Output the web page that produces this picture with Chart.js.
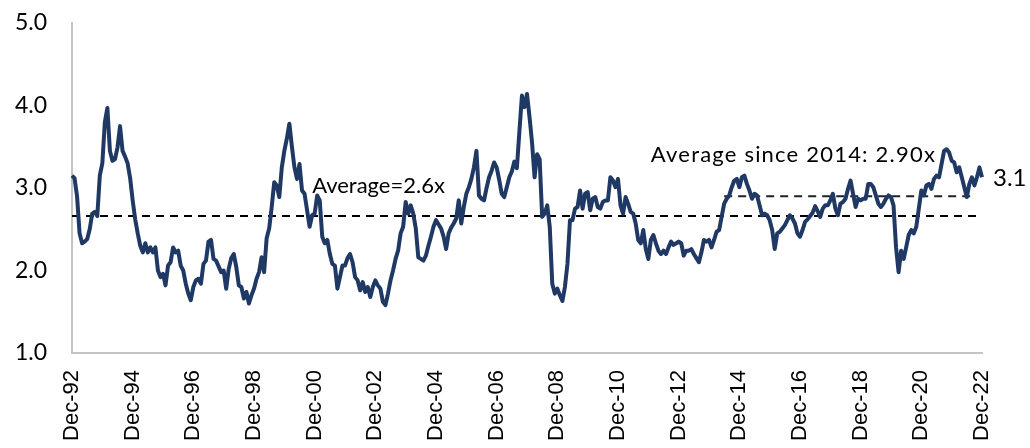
<!DOCTYPE html>
<html>
<head>
<meta charset="utf-8">
<script src="https://cdn.jsdelivr.net/npm/chart.js@4.4.0/dist/chart.umd.min.js"></script>
<style>
  html, body { margin: 0; padding: 0; background: #fff; }
  #wrap { width: 1030px; height: 448px; }
</style>
</head>
<body>
<div id="wrap"><canvas id="pe" width="1030" height="448"></canvas></div>
<script>
// monthly multiple, Dec-92 .. Dec-99
const pe1990s = [
  3.15, 3.12, 2.90, 2.45, 2.33, 2.35, 2.38, 2.50, 2.69, 2.71,
  2.66, 3.15, 3.30, 3.80, 3.97, 3.45, 3.33, 3.35, 3.49, 3.75,
  3.45, 3.38, 3.30, 3.12, 2.85, 2.62, 2.45, 2.30, 2.22, 2.33,
  2.22, 2.28, 2.22, 2.28, 2.00, 1.92, 1.96, 1.82, 2.06, 2.10,
  2.28, 2.22, 2.24, 2.06, 2.00, 1.84, 1.72, 1.64, 1.80, 1.88,
  1.90, 1.84, 2.08, 2.12, 2.35, 2.37, 2.14, 2.12, 2.05, 1.98,
  2.00, 1.78, 2.02, 2.15, 2.20, 2.04, 1.82, 1.80, 1.66, 1.74,
  1.60, 1.70, 1.78, 1.90, 1.98, 2.16, 1.98, 2.39, 2.51, 2.77,
  3.07, 3.03, 2.89, 3.25, 3.45
];
// Jan-00 .. Dec-09
const pe2000s = [
  3.60, 3.78, 3.50, 3.25, 3.11, 3.29, 2.97, 2.93, 2.73, 2.53,
  2.67, 2.69, 2.91, 2.85, 2.41, 2.33, 2.37, 2.20, 2.08, 2.06,
  1.78, 1.92, 2.06, 2.06, 2.15, 2.20, 2.10, 1.92, 1.88, 1.76,
  1.86, 1.74, 1.80, 1.68, 1.80, 1.88, 1.82, 1.78, 1.62, 1.58,
  1.72, 1.88, 2.00, 2.14, 2.24, 2.45, 2.53, 2.83, 2.69, 2.79,
  2.69, 2.51, 2.16, 2.14, 2.12, 2.18, 2.30, 2.41, 2.53, 2.61,
  2.56, 2.51, 2.41, 2.26, 2.45, 2.52, 2.57, 2.63, 2.85, 2.57,
  2.77, 2.93, 3.01, 3.11, 3.25, 3.45, 2.91, 2.87, 2.85, 3.00,
  3.13, 3.21, 3.31, 3.25, 3.10, 2.93, 2.89, 3.01, 3.13, 3.20,
  3.32, 3.24, 3.69, 4.12, 3.98, 4.14, 3.86, 3.55, 3.13, 3.41,
  3.35, 2.65, 2.69, 2.79, 2.53, 1.84, 1.72, 1.78, 1.70, 1.63,
  1.80, 2.08, 2.61, 2.61, 2.75, 2.77, 2.97, 2.75, 2.93, 2.95
];
// Jan-10 .. Dec-19
const pe2010s = [
  2.73, 2.87, 2.89, 2.77, 2.75, 2.83, 2.85, 2.85, 3.13, 3.09,
  3.01, 3.11, 2.79, 2.69, 2.89, 2.81, 2.71, 2.69, 2.57, 2.37,
  2.33, 2.49, 2.26, 2.14, 2.37, 2.43, 2.33, 2.24, 2.20, 2.24,
  2.20, 2.28, 2.35, 2.31, 2.33, 2.35, 2.33, 2.18, 2.24, 2.24,
  2.26, 2.20, 2.15, 2.10, 2.22, 2.37, 2.35, 2.37, 2.28, 2.37,
  2.47, 2.49, 2.65, 2.81, 2.87, 2.91, 3.01, 3.09, 3.11, 3.01,
  3.13, 3.15, 3.05, 2.97, 2.87, 2.93, 2.91, 2.79, 2.67, 2.69,
  2.67, 2.61, 2.49, 2.26, 2.45, 2.47, 2.51, 2.55, 2.61, 2.67,
  2.63, 2.57, 2.45, 2.41, 2.49, 2.59, 2.62, 2.66, 2.70, 2.78,
  2.72, 2.65, 2.75, 2.79, 2.79, 2.85, 2.93, 2.75, 2.67, 2.81,
  2.83, 2.87, 2.99, 3.09, 2.93, 2.77, 2.87, 2.85, 2.87, 2.87,
  3.05, 3.05, 3.01, 2.91, 2.81, 2.77, 2.81, 2.87, 2.91, 2.89
];
// Jan-20 .. Dec-22
const pe2020s = [
  2.79, 2.28, 1.98, 2.24, 2.14, 2.28, 2.43, 2.49, 2.45, 2.53,
  2.75, 2.97, 2.91, 3.03, 3.05, 2.99, 3.11, 3.15, 3.13, 3.29,
  3.45, 3.47, 3.43, 3.33, 3.31, 3.19, 3.25, 3.13, 3.01, 2.89,
  3.05, 3.13, 3.03, 3.13, 3.25, 3.13
];

const tickLabels = ['Dec-92', 'Dec-94', 'Dec-96', 'Dec-98', 'Dec-00', 'Dec-02', 'Dec-04', 'Dec-06',
  'Dec-08', 'Dec-10', 'Dec-12', 'Dec-14', 'Dec-16', 'Dec-18', 'Dec-20', 'Dec-22'];

const avgAll = 2.66;
const avgSince2014 = 2.90;
const since2014From = 258; // month index where the 2014 average line is drawn from
const since2014To = 357;

const peRatio = [...pe1990s, ...pe2000s, ...pe2010s, ...pe2020s];
const months = peRatio.map((_, i) => i);
const lastIdx = peRatio.length - 1;

const notes = {
  id: 'notes',
  afterDatasetsDraw(chart) {
    const { ctx, scales: { x, y } } = chart;
    ctx.save();
    ctx.fillStyle = '#000';
    ctx.font = '22px Lato';
    ctx.textBaseline = 'alphabetic';
    ctx.fillText('Average=2.6x', x.getPixelForValue(95), y.getPixelForValue(avgAll) - 23);
    ctx.letterSpacing = '1.2px';
    ctx.fillText('Average since 2014: 2.90x', x.getPixelForValue(229), y.getPixelForValue(avgSince2014) - 34);
    ctx.letterSpacing = '0px';
    ctx.font = '24px Lato';
    ctx.fillText('3.1', x.right + 11, y.getPixelForValue(peRatio[lastIdx]) + 9);
    ctx.restore();
  }
};

new Chart(document.getElementById('pe'), {
  type: 'line',
  data: {
    labels: months,
    datasets: [
      {
        data: peRatio,
        borderColor: '#1f3864',
        borderWidth: 4,
        borderJoinStyle: 'round',
        pointRadius: 0,
        tension: 0
      },
      {
        data: months.map(() => avgAll),
        borderColor: '#000',
        borderWidth: 2,
        borderDash: [8, 6],
        pointRadius: 0
      },
      {
        data: months.map(i => (i >= since2014From && i <= since2014To ? avgSince2014 : null)),
        borderColor: '#1a2230',
        borderWidth: 2.2,
        borderDash: [8, 6],
        pointRadius: 0
      }
    ]
  },
  options: {
    responsive: false,
    animation: false,
    layout: { padding: { top: 23, right: 48, left: 0, bottom: 0 } },
    plugins: { legend: { display: false }, tooltip: { enabled: false } },
    scales: {
      x: {
        grid: { display: false, drawTicks: false },
        border: { display: true, color: '#c4c4c4', width: 2 },
        ticks: {
          autoSkip: false,
          maxRotation: 90,
          minRotation: 90,
          padding: 17,
          color: '#000',
          font: { family: 'Liberation Sans', size: 22 },
          callback: (v, i) => (i % 24 === 0 ? tickLabels[i / 24] : null)
        },
        afterFit: s => { s.height = 95; s.paddingLeft = 0; s.paddingRight = 0; }
      },
      y: {
        min: 1,
        max: 5,
        grid: { display: false, drawTicks: false },
        border: { display: true, color: '#c4c4c4', width: 2 },
        ticks: {
          stepSize: 1,
          padding: 25,
          color: '#000',
          font: { family: 'Lato', size: 23 },
          callback: v => v.toFixed(1)
        },
        afterFit: s => { s.width = 72; s.paddingTop = 0; s.paddingBottom = 0; }
      }
    }
  },
  plugins: [notes]
});
</script>
</body>
</html>
